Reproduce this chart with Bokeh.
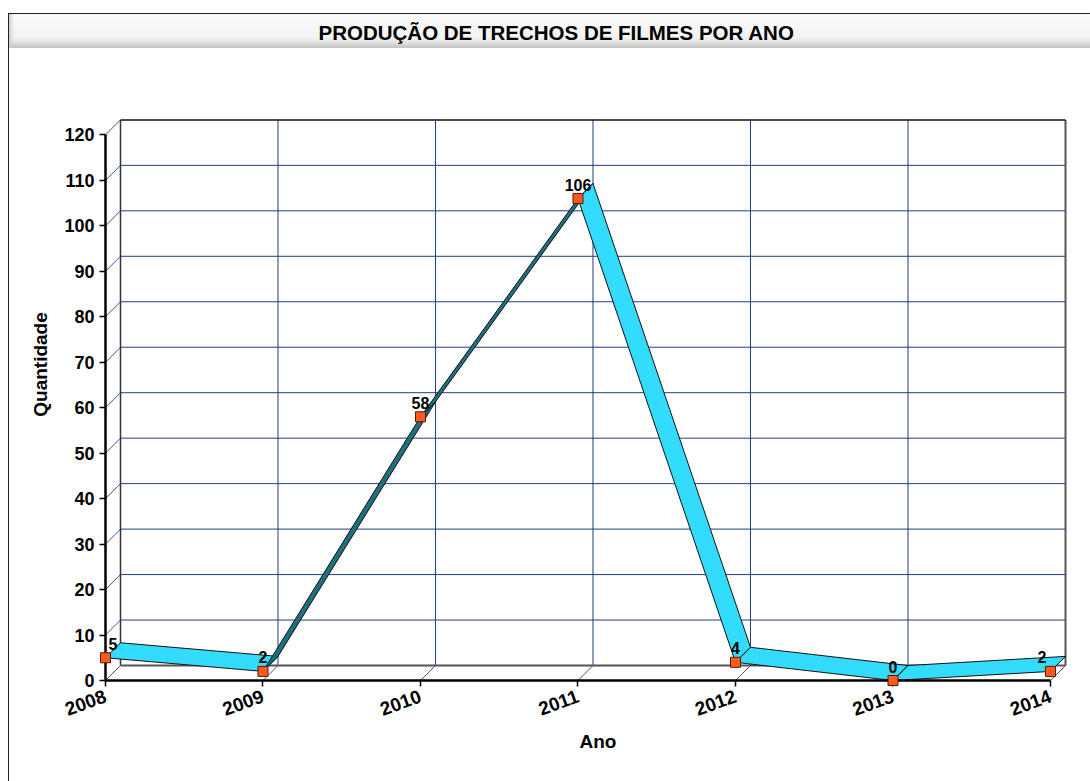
import math
from bokeh.plotting import figure
from bokeh.models import Range1d, FixedTicker
from bokeh.core.properties import value
from bokeh.embed import file_html
from bokeh.resources import INLINE

# ---------------- data ----------------
categories = ["2008", "2009", "2010", "2011", "2012", "2013", "2014"]
quantities = [5, 2, 58, 106, 4, 0, 2]
y_ticks = [0, 10, 20, 30, 40, 50, 60, 70, 80, 90, 100, 110, 120]
title_text = "PRODUÇÃO DE TRECHOS DE FILMES POR ANO"
x_label = "Ano"
y_label = "Quantidade"

years = [int(c) for c in categories]

# ---------------- layout ----------------
FONT = "Liberation Sans"
W, H = 1090, 781
B_LEFT, B_TOP, B_BOTTOM, B_RIGHT = 105, 48, 101, 0
X0, X_END = years[0], years[-1] + 0.254
Y0, Y_END = 0, 139.0
DEPTH = 15  # px of the 3D depth

px_x = (W - B_LEFT - B_RIGHT) / (X_END - X0)
px_y = (H - B_TOP - B_BOTTOM) / (Y_END - Y0)
dx = DEPTH / px_x
dy = DEPTH / px_y

p = figure(width=W, height=H, output_backend="svg", toolbar_location=None,
           x_range=Range1d(X0, X_END), y_range=Range1d(Y0, Y_END),
           min_border_left=B_LEFT, min_border_top=B_TOP,
           min_border_bottom=B_BOTTOM, min_border_right=B_RIGHT)
p.outline_line_color = None
p.xgrid.visible = False
p.ygrid.visible = False
p.background_fill_color = "white"
p.border_fill_alpha = 0

# outer border lines and the gray title bar, painted behind the transparent canvas border
p.styles = {
    "background-color": "white",
    "background-image": ", ".join([
        "linear-gradient(#222222, #222222)",
        "linear-gradient(#222222, #222222)",
        "linear-gradient(to right, #CFCFCF, rgba(255,255,255,0))",
        "linear-gradient(to bottom, #FBFBFB 0%, #F3F3F3 68%, #E0E0E0 84%, #C2C2C2 100%)",
    ]),
    "background-size": "1px 800px, 1100px 1px, 5px 34px, 1100px 34px",
    "background-position": "8px 13px, 8px 13px, 9px 14px, 9px 14px",
    "background-repeat": "no-repeat",
}

# ---------------- title ----------------
p.title.text = title_text
p.title.text_font = FONT
p.title.text_font_size = "20.5px"
p.title.text_font_style = "bold"
p.title.align = "left"
p.title.offset = 213
p.title.text_color = "black"

# ---------------- 3D walls / grid ----------------
xl, xr = years[0], years[-1]
ymax = y_ticks[-1]
inner = y_ticks[1:-1]
p.multi_line(xs=[[xl + dx, xr + dx] for _ in inner], ys=[[t + dy, t + dy] for t in inner],
             line_color="#1F3F80", line_width=1)
p.multi_line(xs=[[xl, xl + dx] for _ in y_ticks[1:]], ys=[[t, t + dy] for t in y_ticks[1:]],
             line_color="#3A5A8A", line_width=1)
p.multi_line(xs=[[x + dx, x + dx] for x in years[1:-1]], ys=[[dy, ymax + dy] for _ in years[1:-1]],
             line_color="#1F3F80", line_width=1)
p.multi_line(xs=[[x, x + dx] for x in years], ys=[[0, dy] for _ in years],
             line_color="#555555", line_width=1)
p.line([xl + dx, xl + dx], [dy, ymax + dy], line_color="#333333", line_width=1.5)
p.line([xr + dx, xr + dx], [dy, ymax + dy], line_color="#555555", line_width=2)
p.line([xl + dx, xr + dx], [ymax + dy, ymax + dy], line_color="#111111", line_width=1.5)
p.line([xl + dx, xr + dx], [dy, dy], line_color="#555555", line_width=2)

# ---------------- ribbon ----------------
rx, ry, rc = [], [], []
for i in range(len(years) - 1):
    x1, x2 = years[i], years[i + 1]
    y1, y2 = quantities[i], quantities[i + 1]
    rx.append([x1, x2, x2 + dx, x1 + dx])
    ry.append([y1, y2, y2 + dy, y1 + dy])
    slope_px = (y2 - y1) * px_y / ((x2 - x1) * px_x)
    rc.append("#1F6F80" if slope_px > 1 else "#33DCFC")
p.patches(xs=rx, ys=ry, fill_color=rc, line_color="#111111", line_width=1)

# ---------------- markers & labels ----------------
p.scatter(years, quantities, marker="square", size=10, fill_color="#FF5A1E",
          line_color="#5A1A00", line_width=1, level="overlay")
aligns = ["left"] + ["center"] * (len(years) - 2) + ["right"]
xoffs = [3] + [0] * (len(years) - 2) + [-4]
p.text(x=years, y=quantities, text=[str(q) for q in quantities],
       text_align=aligns, x_offset=xoffs, y_offset=-14, text_baseline="alphabetic",
       text_font=value(FONT), text_font_size="16px", text_font_style="bold",
       text_color="black", level="overlay")

# ---------------- axes ----------------
ya = p.yaxis[0]
ya.ticker = FixedTicker(ticks=y_ticks)
ya.bounds = (y_ticks[0], y_ticks[-1])
ya.axis_line_width = 2.5
ya.axis_line_color = "black"
ya.major_tick_out = 6
ya.major_tick_in = 0
ya.major_tick_line_width = 1.5
ya.minor_tick_line_color = None
ya.major_label_text_font = FONT
ya.major_label_text_font_size = "18px"
ya.major_label_text_font_style = "bold"
ya.major_label_text_color = "black"
ya.major_label_standoff = 5
ya.axis_label = y_label
ya.axis_label_text_font = FONT
ya.axis_label_text_font_size = "19px"
ya.axis_label_text_font_style = "bold"
ya.axis_label_text_color = "black"
ya.axis_label_standoff = 10

xa = p.xaxis[0]
xa.ticker = FixedTicker(ticks=years)
xa.major_label_overrides = {y: c for y, c in zip(years, categories)}
xa.bounds = (years[0], years[-1])
xa.axis_line_width = 2.5
xa.axis_line_color = "black"
xa.major_tick_out = 6
xa.major_tick_in = 0
xa.major_tick_line_width = 1.5
xa.minor_tick_line_color = None
xa.major_label_orientation = 0.35
xa.major_label_text_font = FONT
xa.major_label_text_font_size = "19px"
xa.major_label_text_font_style = "bold"
xa.major_label_text_color = "black"
xa.major_label_standoff = 9
xa.axis_label = x_label
xa.axis_label_text_font = FONT
xa.axis_label_text_font_size = "19px"
xa.axis_label_text_font_style = "bold"
xa.axis_label_text_color = "black"
xa.axis_label_standoff = 6

open("out.html", "w").write(file_html(p, INLINE))
